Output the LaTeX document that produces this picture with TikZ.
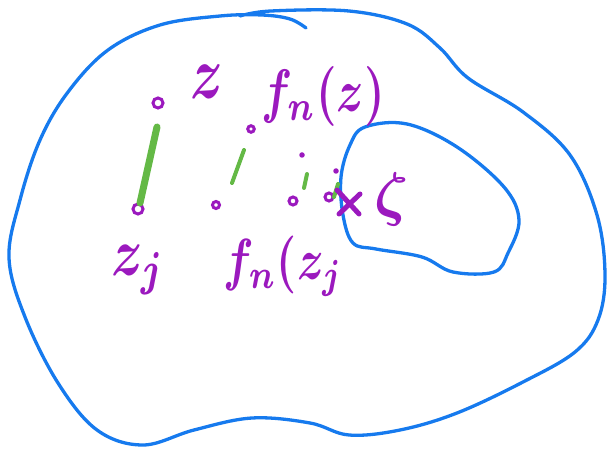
\documentclass[tikz,border=0pt]{standalone}
\usepackage{graphicx}
\definecolor{penblue}{RGB}{22,122,238}
\definecolor{penpurple}{RGB}{155,25,190}
\definecolor{pengreen}{RGB}{100,185,70}
\newcommand{\bigtxt}[3]{\scalebox{#1}[#2]{\boldmath$#3$}}
\tikzset{
  bluepen/.style={draw=penblue,line width=3.3pt,line cap=round,line join=round},
  greenpen/.style={draw=pengreen,line width=4pt,line cap=round},
  ptmark/.style={circle,draw=penpurple,line width=3pt,inner sep=0pt,minimum size=10pt},
  dotmark/.style={circle,fill=penpurple,inner sep=0pt,minimum size=5.5pt},
  lab/.style={text=penpurple,inner sep=0pt},
  crosspen/.style={draw=penpurple,line width=5pt,line cap=round}
}
\begin{document}
\begin{tikzpicture}[x=1pt,y=-1pt]
\useasboundingbox (0,0) rectangle (608,449);
% outer region
\draw[bluepen] plot[smooth,tension=0.6] coordinates {(240,16) (271,11) (349,11) (407,24) (440,48) (468,78) (523,112) (570,155) (597,215) (605,275) (598,320) (575,352) (523,382) (457,413) (400,430) (349,435) (310,423) (252,418) (194,430) (143,445) (97,430) (58,383) (25,317) (9,258) (20,200) (40,140) (68,92) (108,50) (160,25) (220,16) (262,15) (290,19) (306,28)};
% inner region
\draw[bluepen] plot[smooth cycle,tension=0.6] coordinates {(365,127) (407,124) (457,147) (504,187) (519,220) (508,253) (494,272) (453,272) (422,257) (376,249) (353,243) (343,215) (341,177) (350,145)};
% points
\node[ptmark] (z) at (158,103) {};
\node[ptmark] (zj) at (138,209) {};
\node[ptmark,minimum size=6.5pt] (fz) at (251,129) {};
\node[ptmark,minimum size=7pt] (p2) at (216,205) {};
\node[dotmark] (q1) at (302,155) {};
\node[ptmark,minimum size=8pt] (p3) at (293,201) {};
\node[dotmark] (q2) at (336,171) {};
\node[ptmark,minimum size=8pt] (p4) at (329,197) {};
% green segments
\draw[greenpen,line width=7pt] (157,127) -- (140,203);
\draw[greenpen] (244,150) -- (232,183);
\draw[greenpen] (307,174) -- (304,188);
\draw[greenpen] (338,184) -- (334,197);
% cross at zeta
\coordinate (x) at (348,203);
\draw[crosspen] ([shift={(-11,-13)}]x) -- ([shift={(11,11)}]x);
\draw[crosspen] ([shift={(-9,11)}]x) -- ([shift={(12,-9)}]x);
% labels
\node[lab] (lz) at (207,82) {\bigtxt{5.5}{7.5}{z}};
\node[lab] (lfz) at (323,97) {\bigtxt{4.6}{6}{f_n(z)}};
\node[lab] (lzj) at (138,270) {\bigtxt{5.3}{6.8}{z_j}};
\node[lab] (lfzj) at (283,266) {\bigtxt{4.5}{5.8}{f_n(z_j}};
\node[lab] (lzeta) at (392,200) {\bigtxt{6}{6}{\zeta}};
\end{tikzpicture}
\end{document}
